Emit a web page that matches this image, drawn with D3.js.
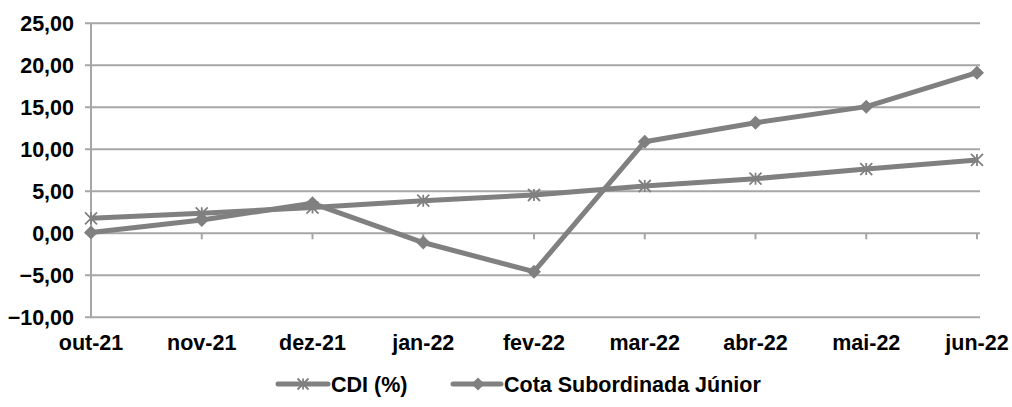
<!DOCTYPE html>
<html><head><meta charset="utf-8">
<script src="https://cdn.jsdelivr.net/npm/d3@7"></script>
<style>
body{margin:0;background:#fff;}
svg{display:block;}
text{font-family:"Liberation Sans",Arial,sans-serif;font-weight:bold;fill:#000;}
</style></head>
<body>
<svg id="c" width="1012" height="407"></svg>
<script>
const categories = ["out-21","nov-21","dez-21","jan-22","fev-22","mar-22","abr-22","mai-22","jun-22"];
const cdi = [1.79, 2.38, 3.07, 3.88, 4.56, 5.63, 6.50, 7.65, 8.73];
const cota = [0.10, 1.58, 3.57, -1.10, -4.57, 10.90, 13.17, 15.08, 19.12];
const yTicks = [-10, -5, 0, 5, 10, 15, 20, 25];
const seriesNames = ["CDI (%)", "Cota Subordinada Júnior"];

const svg = d3.select("#c");
const x = d3.scalePoint().domain(categories).range([91, 977]);
const y = d3.scaleLinear().domain([-10, 25]).range([317.3, 23.3]);
const fmt = v => d3.format(".2f")(v).replace(".", ",");
const gray = "#808080", gridC = "#a6a6a6";

// grid
svg.append("g").selectAll("line").data(yTicks).join("line")
  .attr("x1", 85).attr("x2", 980)
  .attr("y1", d => y(d)).attr("y2", d => y(d))
  .attr("stroke", gridC).attr("stroke-width", 2);

// left axis line
svg.append("line").attr("x1", 91).attr("x2", 91).attr("y1", y(25)).attr("y2", y(-10))
  .attr("stroke", gridC).attr("stroke-width", 2);

// y labels
svg.append("g").selectAll("text").data(yTicks).join("text")
  .attr("x", 74).attr("y", d => y(d)).attr("dy", "0.36em")
  .attr("text-anchor", "end").attr("font-size", "21.5px")
  .text(d => fmt(d));

// x ticks at zero line
svg.append("g").selectAll("line").data(categories).join("line")
  .attr("x1", d => x(d)).attr("x2", d => x(d))
  .attr("y1", y(0)).attr("y2", y(0) + 6)
  .attr("stroke", gridC).attr("stroke-width", 2);

// x labels
svg.append("g").selectAll("text").data(categories).join("text")
  .attr("x", d => x(d)).attr("y", 350)
  .attr("text-anchor", "middle").attr("font-size", "21.5px")
  .text(d => d);

const line = d3.line().x((d, i) => x(categories[i])).y(d => y(d));

function asterisk(g, cx, cy, s) {
  const r = s / 2;
  g.append("path")
    .attr("d", `M${cx - r},${cy - r}L${cx + r},${cy + r}M${cx - r},${cy + r}L${cx + r},${cy - r}M${cx},${cy - r}L${cx},${cy + r}`)
    .attr("stroke", gray).attr("stroke-width", 1.8).attr("fill", "none");
}
function diamond(g, cx, cy, s) {
  const r = s / 2;
  g.append("path")
    .attr("d", `M${cx},${cy - r}L${cx + r},${cy}L${cx},${cy + r}L${cx - r},${cy}Z`)
    .attr("fill", gray);
}

// CDI
svg.append("path").datum(cdi).attr("d", line)
  .attr("fill", "none").attr("stroke", gray).attr("stroke-width", 5).attr("stroke-linejoin", "round");
const gA = svg.append("g");
cdi.forEach((v, i) => asterisk(gA, x(categories[i]), y(v), 12));

// Cota
svg.append("path").datum(cota).attr("d", line)
  .attr("fill", "none").attr("stroke", gray).attr("stroke-width", 5).attr("stroke-linejoin", "round");
const gD = svg.append("g");
cota.forEach((v, i) => diamond(gD, x(categories[i]), y(v), 14));

// legend
const ly = 384;
const lg = svg.append("g");
lg.append("line").attr("x1", 278).attr("x2", 328).attr("y1", ly).attr("y2", ly)
  .attr("stroke", gray).attr("stroke-width", 5).attr("stroke-linecap", "round");
asterisk(lg, 303, ly, 11);
lg.append("text").attr("x", 331).attr("y", ly).attr("dy", "0.36em").attr("font-size", "21.5px").text(seriesNames[0]);
lg.append("line").attr("x1", 453).attr("x2", 501).attr("y1", ly).attr("y2", ly)
  .attr("stroke", gray).attr("stroke-width", 5).attr("stroke-linecap", "round");
diamond(lg, 478, ly, 13);
lg.append("text").attr("x", 504).attr("y", ly).attr("dy", "0.36em").attr("font-size", "21.5px").text(seriesNames[1]);
</script>
</body></html>
